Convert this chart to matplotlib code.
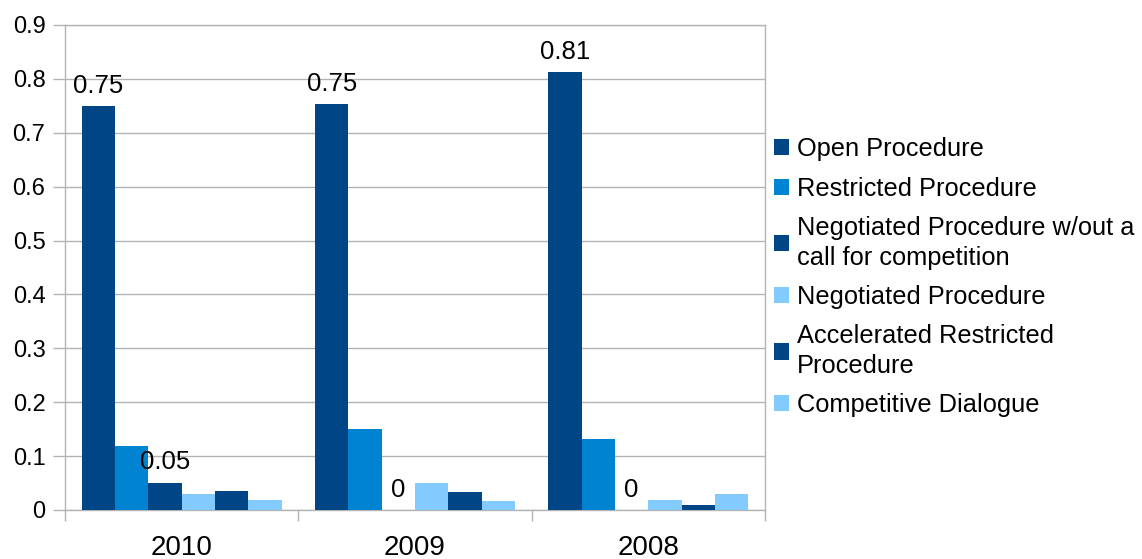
import matplotlib
matplotlib.use("Agg")
import matplotlib.pyplot as plt
import numpy as np

categories = ["2010", "2009", "2008"]
series_names = [
    "Open Procedure",
    "Restricted Procedure",
    "Negotiated Procedure w/out a\ncall for competition",
    "Negotiated Procedure",
    "Accelerated Restricted\nProcedure",
    "Competitive Dialogue",
]
open_proc = [0.75, 0.753, 0.812]
restricted = [0.118, 0.151, 0.131]
negotiated_wo = [0.051, 0.0, 0.0]
negotiated = [0.030, 0.051, 0.019]
accelerated = [0.036, 0.034, 0.010]
competitive = [0.019, 0.016, 0.030]
series_values = [open_proc, restricted, negotiated_wo, negotiated, accelerated, competitive]
labeled_series = [0, 2]
colors = ["#004586", "#0084d1", "#004586", "#83caff", "#004586", "#83caff"]
yticks = [0, 0.1, 0.2, 0.3, 0.4, 0.5, 0.6, 0.7, 0.8, 0.9]
ytick_labels = ["0", "0.1", "0.2", "0.3", "0.4", "0.5", "0.6", "0.7", "0.8", "0.9"]

plt.rcParams['font.family'] = ['Liberation Sans', 'DejaVu Sans']
FS = 18.3
grid_c = "#b3b3b3"

fig = plt.figure(figsize=(11.42, 5.59), dpi=100)
ax = fig.add_axes([65/1142, 1 - 510/559, 700/1142, (510-25)/559])

x = np.arange(len(categories))
n = len(series_values)
w = 1.0 / (n + 1)
for i, (vals, name, c) in enumerate(zip(series_values, series_names, colors)):
    off = (i - (n - 1) / 2) * w
    bars = ax.bar(x + off, vals, width=w, color=c, label=name, zorder=3, linewidth=0)
    if i in labeled_series:
        for xi, v in zip(x + off, vals):
            ax.annotate(f"{v:.2f}".rstrip("0").rstrip(".") if v != 0 else "0",
                        (xi, v), xytext=(0, 9.4), textcoords="offset points",
                        ha="center", va="baseline", fontsize=18.5, color="black", zorder=4)

ax.set_xlim(-0.5, len(categories) - 0.5)
ax.set_ylim(0, 0.9)
ax.set_yticks(yticks)
ax.set_yticklabels(ytick_labels, fontsize=17)
ax.set_xticks(x)
ax.set_xticklabels(categories, fontsize=20)
ax.set_xticks(np.arange(len(categories) + 1) - 0.5, minor=True)
ax.tick_params(axis="x", which="major", length=0, pad=18)
ax.tick_params(axis="x", which="minor", length=8, color=grid_c, width=1)
ax.tick_params(axis="y", length=8.6, color=grid_c, width=1, pad=5.5)
ax.yaxis.grid(True, color=grid_c, linewidth=1, zorder=0)
ax.set_axisbelow(True)
for s in ["left", "right", "bottom", "top"]:
    ax.spines[s].set_color(grid_c)
    ax.spines[s].set_linewidth(1)

leg = ax.legend(loc="center left", bbox_to_anchor=(0.998, 0.5 - 0.02), frameon=False,
                fontsize=FS, handlelength=0.6, handleheight=0.6, handletextpad=0.3,
                labelspacing=0.6, borderaxespad=0)
for t in leg.get_texts():
    t.set_linespacing(1.3)

fig.savefig("out.png", dpi=100)
